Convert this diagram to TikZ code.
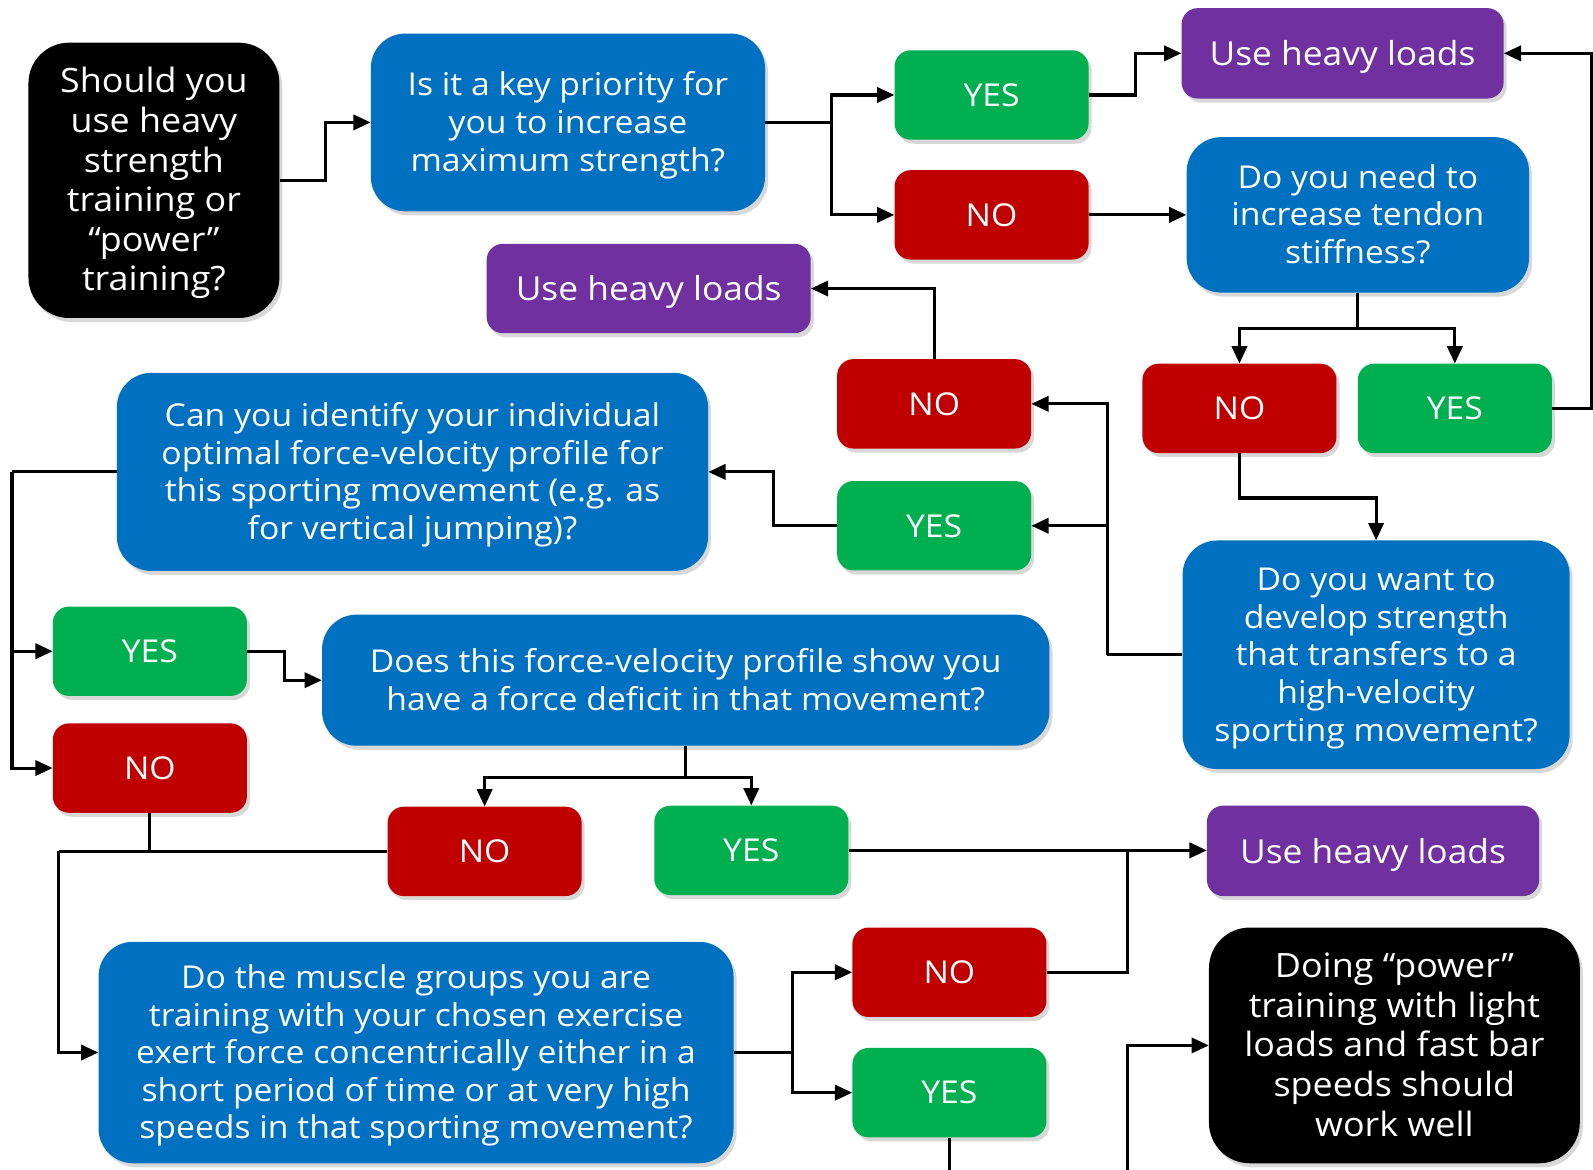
\documentclass[tikz,border=0pt]{standalone}
\usepackage{fontspec}
\setmainfont{Open Sans}[FakeStretch=1.07]
\usetikzlibrary{arrows.meta,shadows}
\definecolor{cblue}{HTML}{0070C0}
\definecolor{cgreen}{HTML}{00B050}
\definecolor{cred}{HTML}{C00000}
\definecolor{cpurple}{HTML}{7030A0}
\newcommand{\lowertext}{\rule{0pt}{32pt}}
\newcommand{\dn}[1]{\raisebox{-3.5pt}[\height][\depth]{\begin{tabular}{@{}c@{}}#1\end{tabular}}}
\tikzset{
 box/.style={rounded corners=16pt, text=white, align=center, inner sep=0pt,
   font=\fontsize{31}{37}\selectfont,
   drop shadow={shadow xshift=3pt, shadow yshift=-4pt, opacity=0.3}},
 yesbox/.style={box, fill=cgreen, minimum width=191pt, minimum height=88pt},
 nobox/.style={box, fill=cred, minimum width=191pt, minimum height=88pt},
 heavybox/.style={box, fill=cpurple, minimum height=89pt, font=\fontsize{32.5}{37}\selectfont,
   execute at begin node=\lowertext},
 qbox/.style={box, rounded corners=34pt, fill=cblue},
 endbox/.style={box, rounded corners=40pt, fill=black, font=\fontsize{33}{39}\selectfont},
 conn/.style={line width=3pt, black},
 arr/.style={conn, -{Triangle[length=17pt,width=15pt]}},
}
\begin{document}
\begin{tikzpicture}[x=1pt,y=-1pt]
\useasboundingbox (0,0) rectangle (1568,1151);
\clip (0,0) rectangle (1568,1151);
\fill[white] (0,0) rectangle (1568,1151);

\node[endbox, minimum width=247pt, minimum height=271pt] (s) at (151.5,177.5) {\dn{Should you\\use heavy\\strength\\training or\\“power”\\training?}};
\node[qbox, minimum width=388pt, minimum height=175pt] (q1) at (559,120.5) {\dn{Is it a key priority for\\you to increase\\maximum strength?}};
\node[yesbox] (y1) at (976,93.5) {YES};
\node[nobox] (n1) at (976,211.5) {NO};
\node[heavybox, minimum width=317pt] (h1) at (1321.5,52.5) {Use heavy loads};
\node[qbox, minimum width=337pt, minimum height=153pt] (q2) at (1336.5,211.5) {\dn{Do you need to\\increase tendon\\stiffness?}};
\node[heavybox, minimum width=319pt, minimum height=88pt] (h2) at (638.5,284) {Use heavy loads};
\node[nobox] (n3) at (919.5,397.5) {NO};
\node[nobox] (n2) at (1220,402) {NO};
\node[yesbox] (y2) at (1432,402) {YES};
\node[qbox, minimum width=582pt, minimum height=195pt] (q3) at (406,464.5) {\dn{Can you identify your individual\\optimal force-velocity profile for\\this sporting movement (e.g. as\\for vertical jumping)?}};
\node[yesbox] (y3) at (919.5,517.5) {YES};
\node[qbox, minimum width=381pt, minimum height=225pt] (q4) at (1354.5,644.5) {\dn{Do you want to\\develop strength\\that transfers to a\\high-velocity\\sporting movement?}};
\node[yesbox] (y4) at (147.5,641) {YES};
\node[qbox, minimum width=716pt, minimum height=129pt] (q5) at (675,669.5) {\dn{Does this force-velocity profile show you\\have a force deficit in that movement?}};
\node[nobox] (n4) at (147.5,756) {NO};
\node[nobox] (n5) at (477,838) {NO};
\node[yesbox] (y5) at (739.5,837) {YES};
\node[heavybox, minimum width=327pt] (h3) at (1351.5,837.5) {Use heavy loads};
\node[nobox] (n6) at (934.5,957) {NO};
\node[qbox, minimum width=625pt, minimum height=218pt] (q6) at (409.5,1036) {\dn{Do the muscle groups you are\\training with your chosen exercise\\exert force concentrically either in a\\short period of time or at very high\\speeds in that sporting movement?}};
\node[endbox, minimum width=365pt, minimum height=232pt] (b2) at (1372.5,1029) {\dn{Doing “power”\\training with light\\loads and fast bar\\speeds should\\work well}};
\node[yesbox] (y6) at (934.5,1075.5) {YES};

\draw[arr] (s.east) -- ++(45,0) |- (q1.west);
\draw[conn] (q1.east) -- ++(65,0) coordinate (j1);
\draw[arr] (j1) |- (y1.west);
\draw[arr] (j1) |- (n1.west);
\draw[arr] (y1.east) -- ++(46,0) |- (h1.west);
\draw[arr] (n1.east) -- (q2.west |- n1.east);
\draw[conn] (q2.south) -- ++(0,35) coordinate (j2);
\draw[arr] (j2) -| (n2.north);
\draw[arr] (j2) -| (y2.north);
\draw[arr] (y2.east) -- ++(39,0) |- (h1.east);
\draw[arr] (n2.south) -- ++(0,44) -| (q4.north);
\draw[conn] (q4.west) -- ++(-74,0) coordinate (j3);
\draw[arr] (j3) |- (n3.east);
\draw[arr] (j3) |- (y3.east);
\draw[arr] (n3.north) |- (h2.east);
\draw[arr] (y3.west) -- ++(-62,0) |- (q3.east);
\draw[conn] (q3.west) -- ++(-103,0) coordinate (j4);
\draw[arr] (j4) |- (y4.west);
\draw[arr] (j4) |- (n4.west);
\draw[arr] (y4.east) -- ++(37,0) |- (q5.west);
\draw[conn] (q5.south) -- ++(0,31) coordinate (j5);
\draw[arr] (j5) -| (n5.north);
\draw[arr] (j5) -| (y5.north);
\coordinate (k1) at (58,838);
\draw[conn] (n5.west) -- (k1);
\draw[conn] (n4.south) |- (k1);
\draw[arr] (k1) |- (q6.west);
\draw[arr] (y5.east) -- (h3.west |- y5.east);
\coordinate (k2) at (1110,837);
\draw[conn] (n6.east) -| (k2);
\draw[conn] (q6.east) -- ++(58,0) coordinate (j6);
\draw[arr] (j6) |- (n6.west);
\draw[arr] (j6) |- (y6.west);
\coordinate (k3) at (1110,1200);
\draw[arr] (y6.south) |- (k3) |- (b2.west);
\end{tikzpicture}
\end{document}
